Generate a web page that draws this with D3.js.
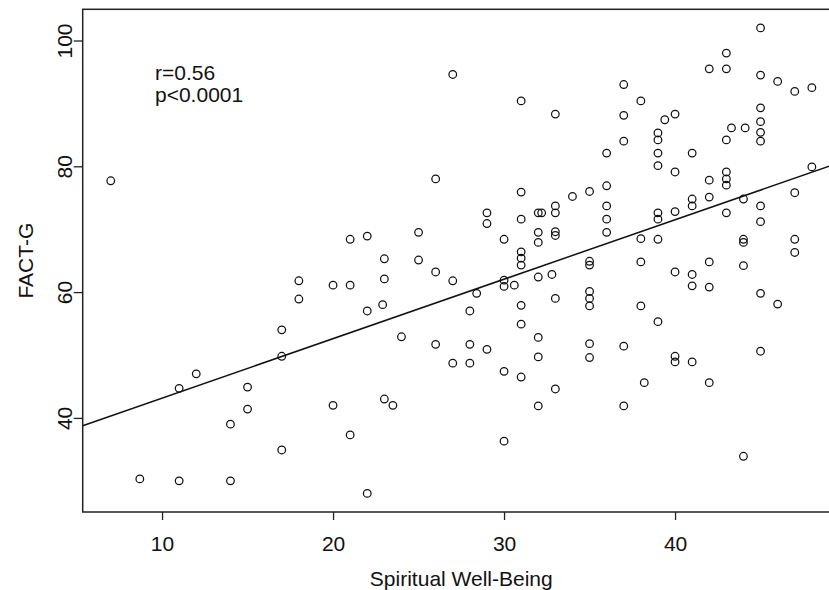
<!DOCTYPE html>
<html>
<head>
<meta charset="utf-8">
<script src="https://cdn.jsdelivr.net/npm/d3@7"></script>
<style>
  html, body { margin: 0; padding: 0; background: #fff; }
  svg { display: block; }
  text { font-family: "Liberation Sans", Arial, Helvetica, sans-serif; fill: #111; }
</style>
</head>
<body>
<svg id="chart" width="829" height="590"></svg>
<script>
// Spiritual Well-Being (x) and FACT-G (y)
const swb = [
  7, 8.7, 11, 11, 12, 14, 14, 15, 15, 17, 17, 17, 18, 18, 20, 20, 21, 21, 21, 22,
  22, 22, 23, 23, 22.9, 23, 23.5, 24, 25, 25, 26, 26, 26, 27, 27, 27, 28, 28, 28, 28.4,
  29, 29, 29, 30, 30, 30, 30.6, 30, 30, 31, 31, 31, 31, 31, 31, 31, 31, 31, 32, 32.2,
  32, 32, 32, 32.8, 32, 32, 32, 33, 33, 33, 33, 33, 33, 33, 34, 35, 35, 35, 35, 35,
  35, 35, 35, 36, 36, 36, 36, 36, 37, 37, 37, 37, 37, 38, 38, 38, 38, 38.2, 39, 39,
  39, 39, 39.4, 39, 39, 39, 39, 40, 40, 40, 40, 40, 40, 41, 41, 41, 41, 41, 41, 42,
  42, 42, 42, 42, 42, 43, 43, 43, 43.3, 43, 43, 43, 43, 44.1, 44, 44, 44, 44, 44, 45,
  45, 45, 45, 45, 45, 45, 45, 45, 45, 46, 46, 47, 47, 47, 47, 48, 48
];
const factg = [
  77.7, 30.3, 30.0, 44.7, 47.0, 39.0, 30.0, 44.9, 41.4, 34.9, 54.0, 49.8, 61.8, 58.9, 61.1, 42.0, 61.1, 68.4, 37.3, 68.9,
  57.0, 28.0, 65.3, 62.1, 58.0, 43.0, 42.0, 52.9, 69.5, 65.1, 78.0, 63.2, 51.7, 94.6, 61.8, 48.7, 57.0, 51.7, 48.7, 59.8,
  72.6, 70.9, 50.9, 68.4, 61.9, 60.9, 61.1, 47.4, 36.3, 90.4, 75.9, 71.6, 66.4, 65.4, 64.3, 57.9, 54.9, 46.5, 72.6, 72.6,
  69.5, 67.9, 62.4, 62.8, 52.8, 49.7, 41.9, 88.3, 73.7, 72.6, 69.6, 69.0, 59.0, 44.6, 75.2, 76.0, 64.9, 64.3, 60.1, 59.0,
  57.8, 51.8, 49.6, 82.1, 76.9, 73.7, 71.6, 69.5, 93.0, 88.1, 84.0, 51.4, 41.9, 90.4, 68.5, 64.8, 57.8, 45.6, 85.3, 84.2,
  82.1, 80.1, 87.4, 72.6, 71.6, 68.4, 55.3, 88.3, 79.1, 72.8, 63.2, 49.8, 48.9, 82.1, 74.8, 73.7, 62.8, 61.0, 48.9, 95.5,
  77.8, 75.1, 64.8, 60.8, 45.6, 98.0, 95.5, 84.2, 86.1, 79.1, 78.0, 77.0, 72.6, 86.1, 74.8, 68.4, 67.9, 64.2, 33.9, 102.0,
  94.5, 89.3, 87.1, 85.4, 84.0, 73.7, 71.2, 59.8, 50.6, 93.5, 58.1, 91.9, 75.8, 68.4, 66.3, 92.5, 79.9
];
const xTicks = [10, 20, 30, 40];
const yTicks = [40, 60, 80, 100];
const fitIntercept = 33.7;
const fitSlope = 0.945;
const annotation = ["r=0.56", "p<0.0001"];
const xTitle = "Spiritual Well-Being";
const yTitle = "FACT-G";

const points = swb.map((v, i) => ({ x: v, y: factg[i] }));

const svg = d3.select("#chart");
const plot = { left: 82.7, right: 839.9, top: 9.3, bottom: 512 };

const x = d3.scaleLinear().domain([5.36, 49.64]).range([plot.left, plot.right]);
const y = d3.scaleLinear().domain([25.04, 104.96]).range([plot.bottom, plot.top]);

svg.append("rect").attr("width", 829).attr("height", 590).attr("fill", "#fff");

svg.append("defs").append("clipPath").attr("id", "clip")
  .append("rect")
  .attr("x", plot.left).attr("y", plot.top)
  .attr("width", plot.right - plot.left).attr("height", plot.bottom - plot.top);

// Frame
svg.append("rect")
  .attr("x", plot.left).attr("y", plot.top)
  .attr("width", plot.right - plot.left).attr("height", plot.bottom - plot.top)
  .attr("fill", "none").attr("stroke", "#222").attr("stroke-width", 1.5);

// X axis
const gx = svg.append("g")
  .attr("transform", `translate(0,${plot.bottom})`)
  .call(d3.axisBottom(x).tickValues(xTicks).tickSize(8).tickPadding(0).tickFormat(d3.format("d")));
gx.select(".domain").remove();
gx.selectAll(".tick line").attr("stroke", "#222").attr("stroke-width", 1.3);
gx.selectAll(".tick text")
  .attr("y", 39).attr("dy", 0)
  .attr("font-size", 21).attr("fill", "#111");

// Y axis
const gy = svg.append("g")
  .attr("transform", `translate(${plot.left},0)`)
  .call(d3.axisLeft(y).tickValues(yTicks).tickSize(9).tickPadding(0).tickFormat(d3.format("d")));
gy.select(".domain").remove();
gy.selectAll(".tick line").attr("stroke", "#222").attr("stroke-width", 1.3);
gy.selectAll(".tick text")
  .attr("x", 0).attr("y", -11).attr("dy", 0)
  .attr("transform", "rotate(-90)")
  .attr("text-anchor", "middle")
  .attr("font-size", 21).attr("fill", "#111");

// Axis titles
svg.append("text")
  .attr("x", (plot.left + plot.right) / 2).attr("y", 586)
  .attr("text-anchor", "middle").attr("font-size", 21)
  .text(xTitle);
svg.append("text")
  .attr("transform", `translate(33,${(plot.top + plot.bottom) / 2}) rotate(-90)`)
  .attr("text-anchor", "middle").attr("font-size", 21)
  .text(yTitle);

// Regression line
const xd = x.domain();
svg.append("line")
  .attr("clip-path", "url(#clip)")
  .attr("x1", x(xd[0])).attr("y1", y(fitIntercept + fitSlope * xd[0]))
  .attr("x2", x(xd[1])).attr("y2", y(fitIntercept + fitSlope * xd[1]))
  .attr("stroke", "#111").attr("stroke-width", 1.5);

// Points
svg.append("g").attr("clip-path", "url(#clip)")
  .selectAll("circle").data(points).join("circle")
  .attr("cx", d => x(d.x)).attr("cy", d => y(d.y))
  .attr("r", 3.8)
  .attr("fill", "none").attr("stroke", "#111").attr("stroke-width", 1.25);

// Annotation
svg.append("text")
  .attr("x", 155).attr("y", 80).attr("font-size", 21)
  .selectAll("tspan").data(annotation).join("tspan")
  .attr("x", 155).attr("dy", (d, i) => i === 0 ? 0 : 22)
  .text(d => d);
</script>
</body>
</html>
